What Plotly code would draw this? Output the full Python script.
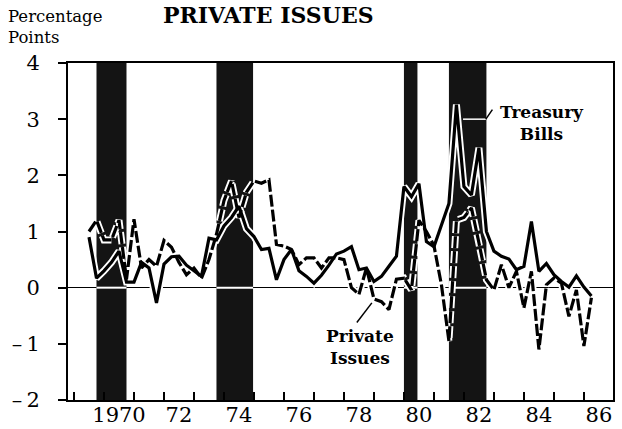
import pandas as pd
import plotly.graph_objects as go

# ---- data (quarterly spreads, percentage points) ----
periods = pd.period_range("1969Q3", "1986Q2", freq="Q")
treasury_bills = [0.9, 0.17, 0.3, 0.45, 0.65, 0.1, 0.1, 0.45, 0.35, -0.27,
                  0.42, 0.55, 0.56, 0.4, 0.3, 0.2, 0.88, 0.85, 1.1, 1.25,
                  1.45, 1.05, 0.91, 0.68, 0.7, 0.14, 0.5, 0.68, 0.3, 0.2,
                  0.08, 0.22, 0.4, 0.6, 0.65, 0.73, 0.32, 0.35, 0.11, 0.2,
                  0.38, 0.56, 1.8, 1.62, 1.85, 0.82, 0.73, 1.13, 1.5, 3.26,
                  1.8, 1.65, 2.49, 1.0, 0.65, 0.56, 0.51, 0.32, 0.38, 1.18,
                  0.29, 0.43, 0.23, 0.11, 0.01, 0.21, 0.01, -0.15]
private_issues = [1.0, 1.2, 0.85, 0.85, 1.2, 0.15, 1.22, 0.35, 0.5, 0.38,
                  0.84, 0.72, 0.45, 0.23, 0.35, 0.17, 0.5, 0.95, 1.55, 1.9,
                  1.25, 1.7, 1.9, 1.86, 1.92, 0.77, 0.74, 0.68, 0.41, 0.53,
                  0.53, 0.35, 0.53, 0.53, 0.5, 0.0, -0.12, 0.35, -0.2, -0.25,
                  -0.39, 0.15, 0.17, -0.04, 1.2, 1.0, 0.75, 0.05, -0.95, 1.2,
                  1.25, 1.42, 0.8, 0.14, -0.04, 0.41, 0.0, 0.29, -0.36, 0.29,
                  -1.1, 0.05, 0.17, 0.08, -0.51, -0.04, -1.04, -0.18]
recession_start = [1969.75, 1973.75, 1980.0, 1981.5]
recession_end = [1970.75, 1974.97, 1980.45, 1982.75]
label_years = [1970, 1972, 1974, 1976, 1978, 1980, 1982, 1984, 1986]
label_text = ["1970", "72", "74", "76", "78", "80", "82", "84", "86"]
y_ticks = [-2, -1, 0, 1, 2, 3, 4]
y_text = ["–\u20092", "–\u20091", "0", "1", "2", "3", "4"]

t = [p.year + (p.quarter - 1) / 4 for p in periods]
SERIF = "DejaVu Serif"
DASH = "12px,3px"

fig = go.Figure()
# white casings first (visible only on the dark recession bands)
fig.add_trace(go.Scatter(x=t, y=treasury_bills, mode="lines",
                         line=dict(color="white", width=7), hoverinfo="skip", showlegend=False))
fig.add_trace(go.Scatter(x=t, y=private_issues, mode="lines",
                         line=dict(color="white", width=7, dash=DASH), hoverinfo="skip", showlegend=False))
fig.add_trace(go.Scatter(x=t, y=treasury_bills, mode="lines", name="Treasury Bills",
                         line=dict(color="black", width=3.2), showlegend=False))
fig.add_trace(go.Scatter(x=t, y=private_issues, mode="lines", name="Private Issues",
                         line=dict(color="black", width=3.2, dash=DASH), showlegend=False))

shapes = []
for s, e in zip(recession_start, recession_end):
    shapes.append(dict(type="rect", xref="x", yref="paper", x0=s, x1=e, y0=0, y1=1,
                       fillcolor="#141414", line=dict(width=0), layer="below"))
    # zero line shows white across the bands
    shapes.append(dict(type="line", xref="x", yref="y", x0=s, x1=e, y0=0, y1=0,
                       line=dict(color="white", width=2), layer="between"))
    # year tick notches show white inside the bands
    for yr in range(1969, 1987):
        if s < yr < e:
            shapes.append(dict(type="line", xref="x", yref="y", x0=yr, x1=yr, y0=-2, y1=-1.86,
                               line=dict(color="white", width=1.5), layer="between"))

# pointer lines for the labels
shapes.append(dict(type="line", xref="x", yref="y", x0=1981.97, x1=1982.73, y0=3.0, y1=3.0,
                   line=dict(color="white", width=1.5), layer="above"))
shapes.append(dict(type="line", xref="x", yref="y", x0=1982.73, x1=1982.95, y0=3.0, y1=3.17,
                   line=dict(color="black", width=1.5), layer="above"))
shapes.append(dict(type="line", xref="x", yref="y", x0=1978.43, x1=1978.93, y0=-0.62, y1=-0.27,
                   line=dict(color="black", width=1.5), layer="above"))

annotations = [
    dict(text="<b>Treasury</b><br><b>Bills</b>", x=1984.6, y=2.93, xref="x", yref="y",
         showarrow=False, align="center", font=dict(family=SERIF, size=17, color="black")),
    dict(text="<b>Private</b><br><b>Issues</b>", x=1978.55, y=-1.05, xref="x", yref="y",
         showarrow=False, align="center", font=dict(family=SERIF, size=17, color="black")),
    dict(text="Percentage<br>Points", x=-0.113, y=1.106, xref="paper", yref="paper",
         xanchor="left", yanchor="middle", showarrow=False, align="left",
         font=dict(family=SERIF, size=16.5, color="black")),
    dict(text="<b>PRIVATE ISSUES</b>", x=0.367, y=1.187, xref="paper", yref="paper",
         xanchor="center", yanchor="top", showarrow=False,
         font=dict(family=SERIF, size=22, color="black")),
]

fig.update_layout(
    width=622, height=429,
    margin=dict(l=68, r=9, t=63, b=29, autoexpand=False),
    paper_bgcolor="white", plot_bgcolor="white",
    shapes=shapes, annotations=annotations,
    showlegend=False,
    xaxis=dict(range=[1968.8, 1986.97], showgrid=False, zeroline=False, automargin=False,
               showline=True, linecolor="black", linewidth=2, mirror=True,
               tickmode="array", tickvals=[y + 0.5 for y in label_years], ticktext=label_text,
               ticks="", ticklen=0, ticklabelstandoff=-5,
               tickfont=dict(family=SERIF, size=21, color="black"),
               minor=dict(tickmode="linear", tick0=1969, dtick=1, ticks="inside",
                          ticklen=8, tickwidth=1.5, tickcolor="black", showgrid=False)),
    yaxis=dict(range=[-2, 4], showgrid=False, zeroline=True, zerolinecolor="black", automargin=False,
               zerolinewidth=1.2, showline=True, linecolor="black", linewidth=2, mirror=True,
               tickmode="array", tickvals=y_ticks, ticktext=y_text,
               ticks="outside", ticklen=8, tickwidth=2, tickcolor="black",
               ticklabelstandoff=14,
               tickfont=dict(family=SERIF, size=21, color="black")),
)

fig.write_html("out.html", config={"displayModeBar": False},
               post_script="document.body.style.margin='0';document.body.style.overflow='hidden';")
